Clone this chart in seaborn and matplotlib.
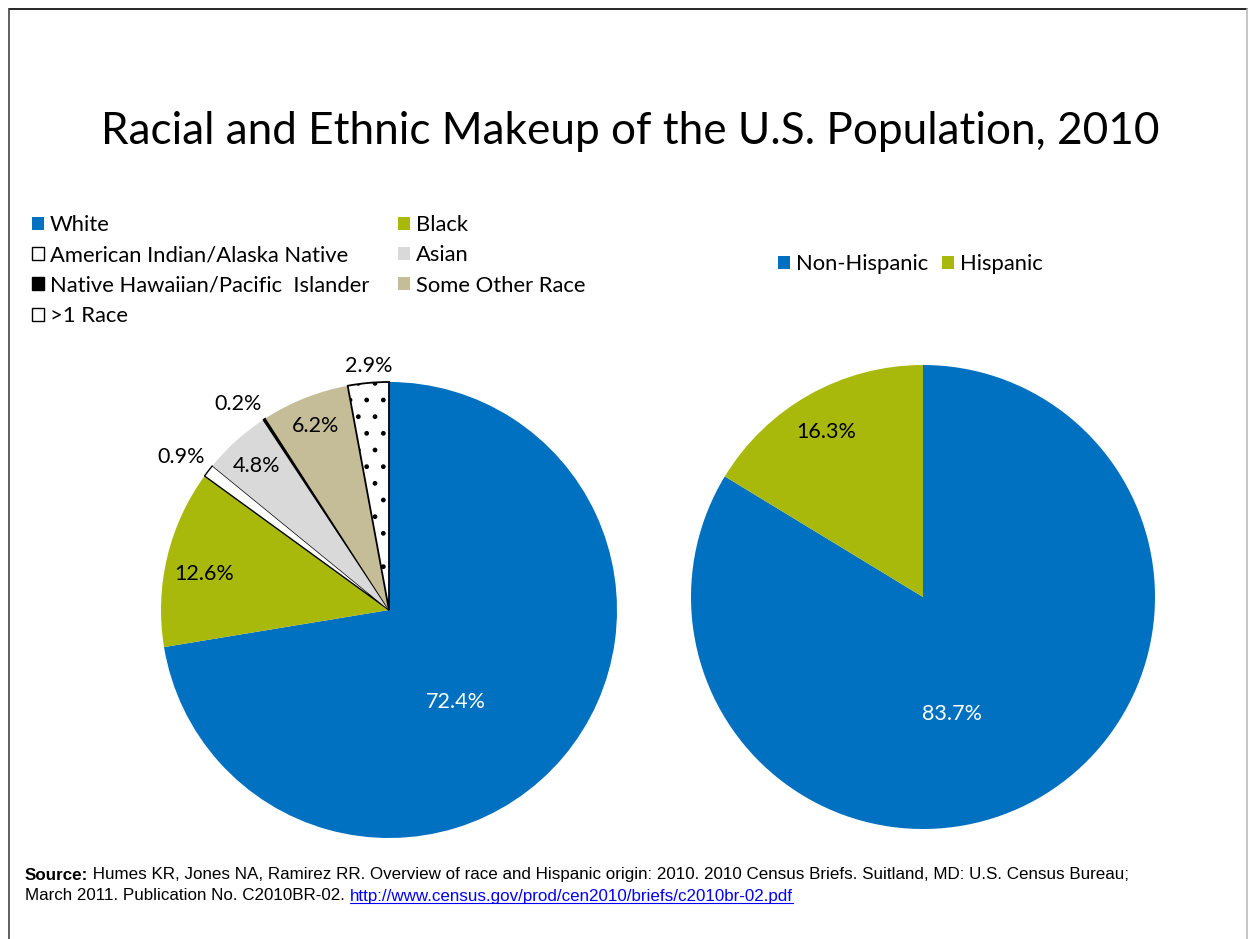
import matplotlib
matplotlib.use("Agg")
import matplotlib.pyplot as plt
import seaborn as sns
from matplotlib.lines import Line2D
from matplotlib.patches import Patch

sns.set_theme(style="white")
plt.rcParams['font.family'] = ['Lato', 'DejaVu Sans']
plt.rcParams['text.color'] = 'black'
plt.rcParams['hatch.linewidth'] = 1.0

# ---------------- data ----------------
race_categories = ["White", "Black", "American Indian/Alaska Native", "Asian",
                   "Native Hawaiian/Pacific  Islander", "Some Other Race", ">1 Race"]
race_values = [72.4, 12.6, 0.9, 4.8, 0.2, 6.2, 2.9]
eth_categories = ["Non-Hispanic", "Hispanic"]
eth_values = [83.7, 16.3]

title = "Racial and Ethnic Makeup of the U.S. Population, 2010"
source_bold = "Source:"
source_line1 = " Humes KR, Jones NA, Ramirez RR. Overview of race and Hispanic origin: 2010. 2010 Census Briefs. Suitland, MD: U.S. Census Bureau;"
source_line2 = "March 2011. Publication No. C2010BR-02. "
source_url = "http://www.census.gov/prod/cen2010/briefs/c2010br-02.pdf"

# ---------------- styles ----------------
BLUE = "#0070C0"
OLIVE = "#A9B90B"
race_colors = [BLUE, OLIVE, "white", "#D9D9D9", "black", "#C4BD97", "white"]
race_edges = ["none", "none", "black", "none", "black", "none", "black"]
race_hatch = [None, None, None, None, None, None, "."]
race_label_pos = [(0.294, -0.404), (-0.811, 0.158), (-0.912, 0.671), (-0.583, 0.632),
                  (-0.662, 0.904), (-0.320, 0.807), (-0.088, 1.070)]
race_label_col = ["white", "black", "black", "black", "black", "black", "black"]
eth_colors = [BLUE, OLIVE]
eth_label_pos = [(0.125, -0.504), (-0.418, 0.711)]
eth_label_col = ["white", "black"]

W, H = 1248, 939
fig = plt.figure(figsize=(W / 100, H / 100), dpi=100)
fig.patch.set_facecolor("white")

def px_axes(cx, cy, r):
    return fig.add_axes([(cx - r) / W, (H - cy - r) / H, 2 * r / W, 2 * r / H])

LBL_FS = 15.5

# ---------------- left pie ----------------
ax1 = px_axes(389, 610, 228)
wedges1, _ = ax1.pie(race_values, colors=race_colors, startangle=90,
                     counterclock=False, radius=1.0,
                     wedgeprops=dict(linewidth=1.0))
for w, ec, h in zip(wedges1, race_edges, race_hatch):
    w.set_edgecolor(ec)
    if h:
        w.set_hatch(h)
        w.set_linewidth(1.3)
for v, pos, c in zip(race_values, race_label_pos, race_label_col):
    ax1.text(pos[0], pos[1], f"{v:.1f}%", ha="center", va="center",
             fontsize=LBL_FS, color=c)
ax1.set_xlim(-1, 1)
ax1.set_ylim(-1, 1)
ax1.set_axis_off()

# ---------------- right pie ----------------
ax2 = px_axes(923, 597, 232)
wedges2, _ = ax2.pie(eth_values, colors=eth_colors, startangle=90,
                     counterclock=False, radius=1.0,
                     wedgeprops=dict(linewidth=0))
for v, pos, c in zip(eth_values, eth_label_pos, eth_label_col):
    ax2.text(pos[0], pos[1], f"{v:.1f}%", ha="center", va="center",
             fontsize=LBL_FS, color=c)
ax2.set_xlim(-1, 1)
ax2.set_ylim(-1, 1)
ax2.set_axis_off()

# ---------------- legends ----------------
LEG_FS = 15.8
race_handles = [Patch(facecolor=fc, edgecolor=ec, linewidth=1.0)
                for fc, ec in zip(race_colors, race_edges)]
order = [0, 2, 4, 6, 1, 3, 5]
leg1 = fig.legend([race_handles[i] for i in order], [race_categories[i] for i in order],
                  ncol=2, loc="upper left", bbox_to_anchor=(32 / W, 1 - 215 / H),
                  frameon=False, fontsize=LEG_FS, handlelength=0.55, handleheight=0.55,
                  handletextpad=0.25, columnspacing=1.33, labelspacing=0.47,
                  borderaxespad=0, borderpad=0)
eth_handles = [Patch(facecolor=fc, edgecolor="none") for fc in eth_colors]
leg2 = fig.legend(eth_handles, eth_categories, ncol=2, loc="upper left",
                  bbox_to_anchor=(778 / W, 1 - 254 / H), frameon=False, fontsize=LEG_FS,
                  handlelength=0.55, handleheight=0.55, handletextpad=0.25,
                  columnspacing=0.65, borderaxespad=0, borderpad=0)
for leg in (leg1, leg2):
    for t in leg.get_texts():
        t.set_color("black")

# ---------------- title ----------------
fig.text(630 / W, 1 - 131 / H, title, ha="center", va="center", fontsize=31.8,
         color="black")

# ---------------- source ----------------
src_font = ['Liberation Sans Narrow', 'Liberation Sans', 'DejaVu Sans']
SRC_FS = 12.25
t0 = fig.text(25 / W, 1 - 875 / H, source_bold, ha="left", va="center",
              fontsize=SRC_FS, fontweight="bold", family=src_font)
fig.canvas.draw()
bb = t0.get_window_extent()
fig.text(bb.x1 / W, 1 - 875 / H, source_line1, ha="left", va="center",
         fontsize=SRC_FS, family=src_font)
t2 = fig.text(25 / W, 1 - 896 / H, source_line2, ha="left", va="center",
              fontsize=SRC_FS, family=src_font)
fig.canvas.draw()
bb2 = t2.get_window_extent()
t3 = fig.text(bb2.x1 / W, 1 - 896 / H, source_url, ha="left", va="center",
              fontsize=SRC_FS, family=src_font, color="#0000FF")
fig.canvas.draw()
bb3 = t3.get_window_extent()
fig.add_artist(Line2D([bb3.x0 / W, bb3.x1 / W], [(bb3.y0 + 1) / H] * 2,
                      color="#0000FF", lw=0.8, transform=fig.transFigure))

# ---------------- frame ----------------
fig.add_artist(Line2D([9 / W, 1247 / W], [1 - 9 / H] * 2, color="black", lw=1.2,
                      transform=fig.transFigure))
fig.add_artist(Line2D([9 / W, 9 / W], [0, 1 - 9 / H], color="#444444", lw=1.2,
                      transform=fig.transFigure))
fig.add_artist(Line2D([1246.5 / W, 1246.5 / W], [0, 1 - 9 / H], color="#BBBBBB", lw=1.2,
                      transform=fig.transFigure))

fig.savefig("out.png", dpi=100, facecolor="white")
